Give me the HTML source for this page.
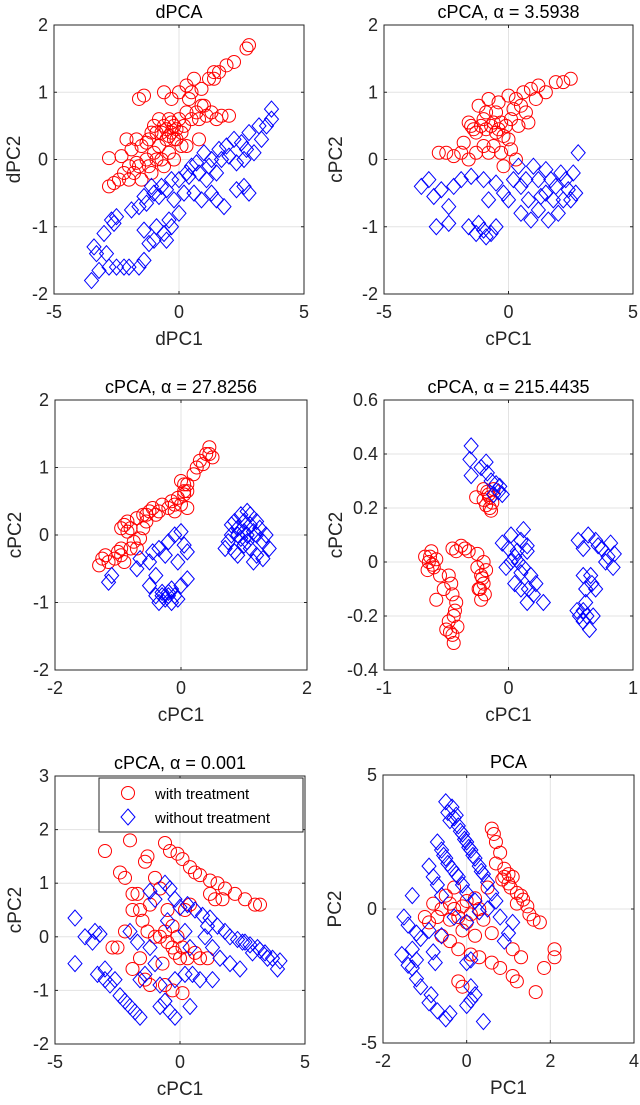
<!DOCTYPE html>
<html><head><meta charset="utf-8"><style>
html,body{margin:0;padding:0;background:#fff;}
svg{display:block;font-family:"Liberation Sans",sans-serif;}
</style></head><body>
<svg id="fig" width="640" height="1105" viewBox="0 0 640 1105" xmlns="http://www.w3.org/2000/svg"></svg>
<script>
// ---- data ----
const dpcaRed=[[-2.8,-0.4],[-2.6,-0.35],[-2.4,-0.3],[-2.2,-0.2],[-2.8,0.02],[-2.3,0.05],[-2.0,-0.1],[-1.8,-0.2],[-1.6,-0.1],[-1.9,0.15],[-1.7,0.3],[-1.5,0.2],[-1.3,0.0],[-1.2,0.3],[-1.0,0.1],[-0.9,0.4],[-0.8,0.2],[-0.7,0.0],[-0.6,0.5],[-0.5,0.3],[-0.4,0.6],[-0.3,0.4],[-0.2,0.5],[-0.1,0.3],[0.0,0.6],[0.1,0.4],[0.2,0.5],[0.3,0.7],[0.5,0.6],[0.7,0.7],[0.9,0.8],[1.1,0.65],[1.3,0.7],[1.5,0.6],[1.7,0.65],[2.0,0.65],[-1.6,0.9],[-1.4,0.95],[-0.6,1.0],[-0.3,0.9],[0.0,1.0],[0.3,1.1],[0.6,1.2],[0.9,1.05],[1.2,1.2],[1.4,1.3],[1.6,1.3],[1.9,1.4],[2.2,1.45],[2.7,1.65],[2.8,1.7],[-1.0,0.5],[-0.8,0.6],[0.4,0.9],[0.8,0.3],[-0.2,0.0],[-1.1,-0.2],[-0.6,-0.1],[-0.4,0.1],[-2.1,0.3],[-1.5,-0.3],[0.3,0.2],[-0.5,0.45],[-0.3,0.55],[-0.1,0.45],[-0.4,0.35],[-0.2,0.3],[-0.7,0.4],[-1.3,0.25],[-1.1,0.4],[0.1,0.2],[-0.9,0.0],[-1.7,-0.05],[-2.0,-0.3],[-1.2,-0.1],[0.8,0.6],[1.0,0.8],[1.4,1.2],[0.5,1.0]];
const dpcaBlue=[[-3.3,-1.4],[-3.0,-1.1],[-2.7,-0.9],[-2.5,-0.85],[-1.9,-0.75],[-1.6,-0.7],[-1.3,-0.65],[-1.0,-0.5],[-0.8,-0.55],[-0.5,-0.45],[-0.2,-0.6],[0.0,-0.3],[0.3,-0.2],[0.5,-0.1],[0.8,-0.2],[1.0,0.1],[1.3,0.0],[1.6,0.15],[1.9,0.2],[2.2,0.3],[2.5,0.25],[2.8,0.4],[3.2,0.5],[3.7,0.75],[3.5,0.5],[3.0,0.1],[2.6,0.0],[2.3,-0.05],[1.5,-0.2],[1.1,-0.3],[0.6,-0.5],[0.9,-0.6],[1.5,-0.6],[1.8,-0.7],[2.3,-0.45],[2.8,-0.5],[-0.3,-0.3],[0.2,-0.5],[-1.1,-0.4],[-3.5,-1.8],[-3.2,-1.65],[-2.8,-1.6],[-2.5,-1.6],[-2.0,-1.6],[-1.6,-1.6],[-1.4,-1.5],[-1.2,-1.25],[-1.4,-1.05],[-1.0,-1.2],[-0.6,-1.1],[-0.3,-1.0],[0.0,-0.8],[-0.5,-1.2],[-3.4,-1.3],[-2.9,-1.4],[-2.2,-1.6],[0.4,-0.25],[0.7,-0.05],[1.2,-0.1],[1.7,0.0],[2.0,0.05],[2.7,0.15],[3.3,0.3],[1.3,-0.5],[2.6,-0.4],[-0.7,-0.4],[-1.4,-0.55],[-0.9,-1.0],[-0.4,-0.9],[3.7,0.6],[-2.6,-0.95]];
const c1Red=[[-2.8,0.1],[-2.5,0.1],[-2.2,0.05],[-1.9,0.1],[-1.6,0.0],[-1.5,0.5],[-1.3,0.4],[-1.1,0.5],[-0.9,0.45],[-0.7,0.5],[-0.5,0.4],[-0.3,0.55],[-0.1,0.5],[0.1,0.6],[-1.2,0.8],[-0.8,0.9],[-0.4,0.85],[0.0,0.95],[0.3,0.9],[0.6,1.0],[0.9,1.05],[1.2,1.1],[1.5,1.0],[1.9,1.15],[2.2,1.15],[2.5,1.2],[-0.6,0.2],[-0.3,0.1],[0.0,0.3],[-1.0,0.2],[-0.2,-0.1],[0.3,0.0],[-1.6,0.55],[0.4,0.5],[0.7,0.7],[-0.5,0.7],[-1.8,0.25],[-0.9,0.7],[-1.4,0.45],[-0.6,0.55],[-0.2,0.35],[0.2,0.75],[-1.0,0.6],[-0.4,0.45],[0.1,0.15],[-0.8,0.1],[-1.3,0.1],[0.5,0.8],[1.1,0.9],[0.8,0.55]];
const c1Blue=[[-3.5,-0.4],[-3.0,-0.55],[-2.7,-0.45],[-2.4,-0.7],[-2.9,-1.0],[-2.4,-0.95],[-1.9,-0.3],[-1.5,-0.25],[-1.0,-0.3],[-0.5,-0.35],[-0.2,-0.5],[0.2,-0.3],[0.5,-0.4],[0.8,-0.6],[1.2,-0.3],[1.5,-0.5],[1.9,-0.4],[2.3,-0.3],[2.6,-0.2],[2.8,0.1],[2.5,-0.6],[2.0,-0.8],[1.6,-0.9],[1.2,-0.75],[0.9,-0.9],[0.5,-0.8],[-1.6,-1.0],[-1.3,-1.1],[-1.0,-1.05],[-0.7,-1.1],[-0.5,-1.0],[0.0,-0.6],[0.4,-0.1],[1.0,-0.1],[1.5,-0.15],[2.2,-0.6],[-0.8,-0.6],[2.7,-0.5],[-3.2,-0.3],[-2.2,-0.4],[1.7,-0.3],[2.1,-0.2],[1.3,-0.55],[0.7,-0.3],[-1.2,-0.95],[-0.9,-1.15],[2.4,-0.45],[1.8,-0.6]];
const c2Red=[[-1.3,-0.45],[-1.25,-0.35],[-1.15,-0.4],[-1.05,-0.35],[-0.95,-0.3],[-0.9,-0.4],[-0.8,-0.2],[-0.75,-0.1],[-0.7,-0.2],[-0.9,0.15],[-0.85,0.2],[-0.95,0.1],[-0.8,0.1],[-0.7,0.25],[-0.6,0.3],[-0.55,0.2],[-0.5,0.35],[-0.45,0.4],[-0.4,0.3],[-0.3,0.45],[-0.2,0.4],[-0.15,0.5],[-0.1,0.35],[-0.05,0.55],[0.0,0.45],[0.05,0.6],[0.1,0.4],[0.0,0.8],[0.05,0.75],[0.1,0.65],[0.2,0.9],[0.25,1.0],[0.3,1.1],[0.4,1.2],[0.45,1.3],[0.5,1.15],[-0.6,0.1],[-0.65,-0.05],[-1.2,-0.3],[-1.0,-0.25],[-0.85,0.05],[-0.55,0.3],[-0.35,0.35],[-0.1,0.45],[0.05,0.65],[0.1,0.75],[-0.95,-0.2],[0.35,1.05],[0.45,1.2]];
const c2Blue=[[-1.15,-0.7],[-1.1,-0.6],[-0.7,-0.5],[-0.65,-0.35],[-0.5,-0.4],[-0.45,-0.25],[-0.4,-0.6],[-0.35,-0.2],[-0.25,-0.3],[-0.2,-0.1],[-0.1,0.0],[0.0,0.05],[0.05,-0.15],[0.1,-0.25],[-0.05,-0.4],[-0.3,-0.9],[-0.25,-0.95],[-0.2,-0.85],[-0.15,-1.0],[-0.1,-0.9],[-0.05,-0.95],[0.0,-0.75],[-0.4,-0.9],[-0.35,-1.0],[-0.5,-0.75],[0.1,-0.65],[0.7,-0.2],[0.75,-0.1],[0.8,0.0],[0.85,-0.25],[0.9,0.1],[0.95,-0.05],[1.0,0.2],[1.05,0.0],[1.1,0.15],[1.1,-0.2],[1.15,0.05],[1.2,-0.3],[1.25,0.1],[1.3,-0.1],[1.35,0.0],[1.4,-0.2],[0.95,0.3],[1.05,0.35],[1.2,0.2],[0.9,-0.3],[1.0,-0.15],[0.8,0.15],[1.3,-0.35],[1.15,-0.4],[0.9,0.0],[1.0,0.05],[1.05,-0.1],[1.2,0.0],[0.85,0.2],[1.1,0.3],[-0.2,-0.9],[-0.3,-0.85],[-0.15,-0.8]];
const c3Red=[[-0.67,0.02],[-0.64,0.0],[-0.62,0.04],[-0.6,-0.02],[-0.58,0.01],[-0.65,-0.03],[-0.55,-0.05],[-0.52,-0.1],[-0.58,-0.14],[-0.45,0.05],[-0.42,0.04],[-0.38,0.06],[-0.35,0.05],[-0.32,0.04],[-0.46,-0.08],[-0.45,-0.12],[-0.42,-0.15],[-0.44,-0.2],[-0.48,-0.22],[-0.5,-0.25],[-0.45,-0.27],[-0.44,-0.3],[-0.41,-0.24],[-0.25,-0.02],[-0.22,-0.05],[-0.2,-0.08],[-0.24,-0.1],[-0.19,-0.12],[-0.22,-0.14],[-0.2,0.0],[-0.25,0.03],[-0.18,-0.03],[-0.2,0.27],[-0.17,0.26],[-0.15,0.24],[-0.13,0.22],[-0.18,0.21],[-0.15,0.2],[-0.12,0.27],[-0.26,0.24],[-0.48,-0.05],[-0.63,0.02],[-0.61,-0.01],[-0.43,-0.18],[-0.47,-0.26],[-0.21,-0.06],[-0.23,-0.1],[-0.16,0.25],[-0.14,0.19],[-0.2,0.23]];
const c3Blue=[[-0.3,0.43],[-0.31,0.38],[-0.3,0.32],[-0.22,0.35],[-0.18,0.37],[-0.17,0.33],[-0.14,0.3],[-0.1,0.29],[-0.08,0.26],[-0.05,0.25],[-0.12,0.25],[-0.05,0.07],[0.0,0.05],[0.02,0.1],[0.05,0.02],[0.08,0.0],[0.1,0.08],[0.12,-0.02],[0.15,0.04],[0.18,-0.05],[0.05,-0.08],[0.1,-0.1],[0.15,-0.15],[0.2,-0.12],[0.22,-0.08],[0.28,-0.15],[0.12,0.12],[-0.02,-0.02],[0.15,0.06],[0.02,0.0],[0.55,-0.18],[0.57,-0.2],[0.6,-0.22],[0.62,-0.15],[0.65,-0.25],[0.68,-0.2],[0.6,-0.05],[0.62,-0.1],[0.67,-0.08],[0.7,-0.1],[0.56,0.08],[0.6,0.05],[0.64,0.1],[0.7,0.08],[0.75,0.05],[0.8,0.02],[0.82,0.07],[0.85,0.03],[0.84,-0.02],[0.78,0.0],[0.07,0.04],[0.1,-0.04],[0.16,-0.1],[0.6,-0.18],[0.63,-0.2],[0.66,-0.05],[-0.07,0.28],[0.72,0.06]];
const c4Red=[[-3.0,1.6],[-2.4,1.2],[-2.2,1.1],[-2.0,1.8],[-1.4,1.4],[-1.3,1.5],[-0.6,1.75],[-0.4,1.6],[-0.1,1.55],[0.1,1.45],[0.4,1.3],[0.6,1.2],[0.8,1.15],[1.2,1.05],[1.5,1.0],[1.8,0.9],[2.2,0.8],[2.6,0.7],[3.0,0.6],[3.2,0.6],[1.2,0.8],[1.4,0.7],[1.7,0.7],[-1.9,0.8],[-1.7,0.8],[-1.9,0.5],[-1.6,0.5],[-1.0,1.1],[-0.8,0.9],[-1.2,0.6],[-2.2,0.1],[-2.7,-0.2],[-2.5,-0.2],[-1.5,0.3],[-1.0,0.0],[-0.8,0.0],[-0.6,0.1],[-0.3,0.2],[-0.1,0.0],[0.1,-0.2],[-0.3,-0.2],[0.0,-0.4],[0.2,0.5],[0.4,0.6],[-0.5,0.5],[-1.9,-0.6],[-1.4,-0.8],[-1.2,-0.9],[-0.6,-0.9],[-0.3,-1.0],[0.1,-1.05],[0.6,-0.3],[0.8,-0.4],[1.1,-0.4],[-1.3,0.1],[-0.7,-0.5],[-0.2,-0.3],[-0.5,-0.1],[0.3,-0.4],[-1.6,-0.4]];
const c4Blue=[[-4.2,0.35],[-4.2,-0.5],[-3.8,0.0],[-3.5,-0.1],[-3.4,0.1],[-3.2,0.05],[-3.3,-0.7],[-3.0,-0.6],[-3.0,-0.8],[-2.8,-0.9],[-2.6,-0.8],[-2.4,-1.1],[-2.2,-1.2],[-2.0,-1.3],[-1.8,-1.4],[-1.6,-1.5],[-2.0,0.1],[-1.7,-0.1],[-1.6,-0.8],[-1.4,-0.7],[-1.0,-0.5],[-1.2,-0.2],[-0.8,-1.3],[-0.6,-1.2],[-0.4,-1.4],[-0.2,-1.5],[0.4,-1.3],[-0.2,-0.8],[0.2,-0.7],[-1.2,0.85],[-1.0,0.7],[-0.6,1.0],[-0.4,0.9],[-0.2,0.7],[0.0,0.55],[0.3,0.6],[0.6,0.5],[0.9,0.4],[1.2,0.35],[1.5,0.2],[1.8,0.1],[2.0,0.0],[2.3,-0.05],[2.6,-0.1],[2.8,-0.15],[3.1,-0.2],[3.4,-0.3],[3.7,-0.4],[4.0,-0.45],[3.9,-0.6],[3.5,-0.4],[1.0,0.0],[1.3,-0.2],[1.6,-0.4],[2.0,-0.5],[2.4,-0.6],[0.4,-0.2],[0.8,-0.8],[1.3,-0.8],[-0.5,0.3],[0.2,0.1],[2.5,-0.1],[3.2,-0.25],[2.9,-0.3],[1.1,0.2],[-0.8,-0.9],[0.5,-0.7]];
const pcaRed=[[0.6,3.0],[0.65,2.8],[0.7,2.5],[0.8,2.1],[0.7,1.7],[0.9,1.5],[1.0,1.3],[1.1,1.2],[0.85,1.1],[1.0,0.95],[1.2,0.6],[1.3,0.5],[1.35,0.35],[1.45,0.1],[1.5,-0.2],[1.6,-0.4],[1.75,-0.5],[1.2,0.2],[-0.8,0.2],[-0.7,-0.3],[-0.5,0.5],[-0.4,0.2],[-0.3,0.0],[-0.2,-0.3],[-0.1,0.1],[0.0,-0.5],[0.1,-0.2],[0.2,0.4],[0.3,0.0],[0.4,-0.4],[-0.6,-1.0],[-0.4,-1.2],[-0.2,-1.5],[0.1,-1.7],[0.3,-1.8],[0.6,-2.0],[0.8,-2.2],[1.1,-2.5],[1.2,-2.7],[1.1,-1.5],[1.3,-1.8],[2.1,-1.5],[2.1,-1.8],[1.85,-2.2],[1.65,-3.1],[-0.2,-2.7],[-0.1,-2.9],[-0.9,-0.5],[-1.0,-0.3],[0.5,0.8],[-0.3,0.8],[0.6,-0.9],[-0.4,-0.4],[-0.1,-0.8],[0.2,-1.0],[-0.6,0.0],[0.0,0.3],[0.9,1.2],[1.05,0.8]];
const pcaBlue=[[-0.5,4.0],[-0.35,3.8],[-0.25,3.5],[-0.4,3.3],[-0.2,3.1],[-0.1,2.8],[0.0,2.5],[0.1,2.2],[0.2,1.9],[0.3,1.6],[0.4,1.3],[0.5,1.0],[0.6,0.6],[0.7,0.3],[-0.7,2.5],[-0.6,2.2],[-0.5,1.9],[-0.35,1.5],[-0.2,1.2],[-0.1,0.9],[0.0,0.6],[0.2,0.3],[-0.9,1.6],[-0.8,1.2],[-0.7,0.9],[-0.6,0.5],[-1.3,0.5],[-1.5,-0.3],[-1.4,-0.6],[-1.2,-0.9],[-1.1,-1.1],[-1.3,-1.5],[-0.9,-0.8],[-0.8,-1.6],[-0.75,-2.0],[-0.6,-1.0],[-1.55,-1.7],[-1.4,-2.1],[-1.2,-2.6],[-1.1,-2.9],[-0.9,-3.5],[-0.7,-3.8],[-0.5,-4.1],[-0.4,-3.9],[0.0,-3.6],[0.1,-2.9],[0.2,-3.2],[0.0,-2.0],[0.1,-1.9],[0.4,-4.2],[0.8,-0.3],[1.0,-0.9],[0.9,-1.2],[1.1,-0.5],[0.5,0.0],[0.3,-0.1],[-0.3,-0.3],[0.0,-0.5],[-0.45,3.6],[-0.3,3.4],[-0.15,2.9],[-0.05,2.6],[0.05,2.3],[0.15,2.0],[0.35,1.4],[-0.55,2.0],[-0.45,1.7],[-0.25,1.3],[-1.2,-1.9],[-1.3,-2.2],[-0.85,-3.2],[0.1,-3.4]];
const titles=["dPCA","cPCA, α = 3.5938","cPCA, α = 27.8256","cPCA, α = 215.4435","cPCA, α = 0.001","PCA"];
const xLabels=["dPC1","cPC1","cPC1","cPC1","cPC1","PC1"];
const yLabels=["dPC2","cPC2","cPC2","cPC2","cPC2","PC2"];
const xTicks=[[-5,0,5],[-5,0,5],[-2,0,2],[-1,0,1],[-5,0,5],[-2,0,2,4]];
const yTicks=[[-2,-1,0,1,2],[-2,-1,0,1,2],[-2,-1,0,1,2],[-0.4,-0.2,0,0.2,0.4,0.6],[-2,-1,0,1,2,3],[-5,0,5]];
const reds=[dpcaRed,c1Red,c2Red,c3Red,c4Red,pcaRed];
const blues=[dpcaBlue,c1Blue,c2Blue,c3Blue,c4Blue,pcaBlue];
// layout (pixel frames)
const frames=[[54,25,304,294],[384,25,633,294],[55,400,307,670],[384,400,633,670],[55,776,305,1044],[383,775,634,1043]];

const NS="http://www.w3.org/2000/svg";
const svg=document.getElementById('fig');
function mk(tag,attrs,parent){const e=document.createElementNS(NS,tag);for(const k in attrs)e.setAttribute(k,attrs[k]);(parent||svg).appendChild(e);return e;}
function fmt(v){return String(Math.round(v*10)/10);}

for(let p=0;p<6;p++){
  const [L,T,R,B]=frames[p];
  const xt=xTicks[p], yt=yTicks[p];
  const x0=xt[0],x1=xt[xt.length-1],y0=yt[0],y1=yt[yt.length-1];
  const sx=v=>L+(v-x0)/(x1-x0)*(R-L);
  const sy=v=>B-(v-y0)/(y1-y0)*(B-T);
  const g=mk('g',{});
  
  
  mk('rect',{x:L,y:T,width:R-L,height:B-T,fill:'#fff'},g);
  xt.forEach(v=>{const l=mk('line',{x1:sx(v),x2:sx(v),y1:T,y2:B,stroke:'#e3e3e3','stroke-width':1},g);
    });
  yt.forEach(v=>{const l=mk('line',{x1:L,x2:R,y1:sy(v),y2:sy(v),stroke:'#e3e3e3','stroke-width':1},g);
    });
  reds[p].forEach(d=>{const c=mk('circle',{cx:sx(d[0]),cy:sy(d[1]),r:6.5,fill:'none',stroke:'#ff0000','stroke-width':1},g);
    });
  blues[p].forEach(d=>{const cx=sx(d[0]),cy=sy(d[1]);
    const q=mk('polygon',{points:`${cx},${cy-8} ${cx+7},${cy} ${cx},${cy+8} ${cx-7},${cy}`,fill:'none',stroke:'#0000ff','stroke-width':1},g);
    });
  const fr=mk('rect',{x:L,y:T,width:R-L,height:B-T,fill:'none',stroke:'#262626','stroke-width':1},g);
  
  xt.forEach(v=>{
    mk('line',{x1:sx(v),x2:sx(v),y1:B,y2:B-3,stroke:'#262626'},g);
    mk('line',{x1:sx(v),x2:sx(v),y1:T,y2:T+3,stroke:'#262626'},g);
    const t=mk('text',{x:sx(v),y:B+24,'text-anchor':'middle','font-size':18,fill:'#262626'},g);
    t.textContent=fmt(v);
    
  });
  yt.forEach(v=>{
    mk('line',{x1:L,x2:L+3,y1:sy(v),y2:sy(v),stroke:'#262626'},g);
    mk('line',{x1:R,x2:R-3,y1:sy(v),y2:sy(v),stroke:'#262626'},g);
    const t=mk('text',{x:L-6,y:sy(v)+6,'text-anchor':'end','font-size':18,fill:'#262626'},g);
    t.textContent=fmt(v);
    
  });
  const tt=mk('text',{x:(L+R)/2,y:T-7,'text-anchor':'middle','font-size':18,fill:'#000'},g);
  tt.textContent=titles[p];
  
  const xl=mk('text',{x:(L+R)/2,y:B+51,'text-anchor':'middle','font-size':19,fill:'#262626'},g);
  xl.textContent=xLabels[p];
  
  const yx=(p%2===0)?L-34:L-42;
  const yl=mk('text',{x:yx,y:(T+B)/2,'text-anchor':'middle','font-size':19,fill:'#262626',transform:`rotate(-90 ${yx} ${(T+B)/2})`},g);
  yl.textContent=yLabels[p];
  
}
// legend
const lg=mk('g',{});


mk('rect',{x:99,y:778,width:204,height:54,fill:'#fff',stroke:'#262626','stroke-width':1},lg);
const lc=mk('circle',{cx:128,cy:793,r:6.5,fill:'none',stroke:'#ff0000'},lg);

const lt1=mk('text',{x:155,y:799,'font-size':15,fill:'#000'},lg);lt1.textContent='with treatment';

const ld=mk('polygon',{points:'128,809 135,817 128,825 121,817',fill:'none',stroke:'#0000ff'},lg);

const lt2=mk('text',{x:155,y:823,'font-size':15,fill:'#000'},lg);lt2.textContent='without treatment';

</script>
</body></html>
